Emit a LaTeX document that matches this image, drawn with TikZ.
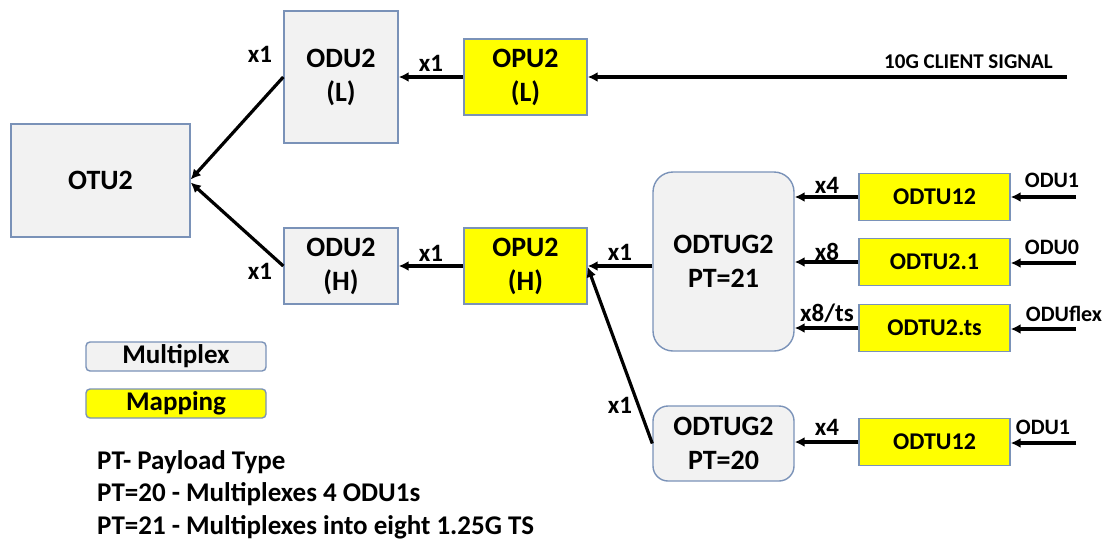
\documentclass[tikz,border=0pt]{standalone}
\usepackage{fontspec}
\setmainfont{Carlito}
\usetikzlibrary{arrows.meta}
\definecolor{boxgray}{RGB}{242,242,242}
\definecolor{boxedge}{RGB}{122,146,184}
\definecolor{mapyellow}{RGB}{255,255,0}
\tikzset{
  mux/.style={draw=boxedge, line width=1.4pt, fill=boxgray, inner sep=0pt, align=center,
    font=\bfseries\fontsize{28}{34}\selectfont},
  map/.style={draw=boxedge, line width=1.4pt, fill=mapyellow, inner sep=0pt, align=center,
    font=\bfseries\fontsize{28}{34}\selectfont},
  arr/.style={line width=3.2pt, -{Latex[length=10pt,width=10pt]}},
  lbl/.style={font=\bfseries\fontsize{25}{30}\selectfont, inner sep=0pt},
  sig/.style={font=\bfseries\fontsize{22}{26}\selectfont, inner sep=0pt},
}
\begin{document}
\begin{tikzpicture}[x=1pt,y=-1pt]
\useasboundingbox (0,0) rectangle (1105,541);
% main boxes
\node[mux, minimum width=179pt, minimum height=113pt] (otu) at (100.5,180.5) {OTU2};
\node[mux, minimum width=114pt, minimum height=132pt] (odul) at (341,77) {ODU2\\(L)};
\node[map, minimum width=123pt, minimum height=76pt] (opul) at (525.5,77) {OPU2\\(L)};
\node[mux, minimum width=114pt, minimum height=76pt] (oduh) at (341,266) {ODU2\\(H)};
\node[map, minimum width=123pt, minimum height=76pt] (opuh) at (525.5,266) {OPU2\\(H)};
\node[mux, rounded corners=20pt, minimum width=141pt, minimum height=179pt] (g21) at (723.5,261.5) {ODTUG2\\PT=21};
\node[mux, rounded corners=15pt, minimum width=141pt, minimum height=75pt] (g20) at (723.5,443.5) {ODTUG2\\PT=20};
\node[map, minimum width=151pt, minimum height=47pt, font=\bfseries\fontsize{24}{28}\selectfont] (t12a) at (934.5,197) {ODTU12};
\node[map, minimum width=151pt, minimum height=47pt, font=\bfseries\fontsize{24}{28}\selectfont] (t21) at (934.5,262) {ODTU2.1};
\node[map, minimum width=151pt, minimum height=47pt, font=\bfseries\fontsize{24}{28}\selectfont] (tts) at (934.5,328) {ODTU2.ts};
\node[map, minimum width=151pt, minimum height=47pt, font=\bfseries\fontsize{24}{28}\selectfont] (t12b) at (934.5,442) {ODTU12};
% legend
\node[mux, rounded corners=4pt, minimum width=180pt, minimum height=29pt, font=\bfseries\fontsize{27}{30}\selectfont] (legmux) at (176,356.5) {Multiplex};
\node[map, rounded corners=4pt, minimum width=180pt, minimum height=29pt, font=\bfseries\fontsize{27}{30}\selectfont] (legmap) at (176,403.5) {Mapping};
\node[anchor=north west, align=left, inner sep=0pt, font=\bfseries\fontsize{27}{32.5}\selectfont] (notes) at (97,450)
  {PT- Payload Type\\PT=20 - Multiplexes 4 ODU1s\\PT=21 - Multiplexes into eight 1.25G TS};
% free ends
\coordinate (client) at (1067,77);
\coordinate (in1) at (1076,197);
\coordinate (in2) at (1076,263);
\coordinate (in3) at (1076,329);
\coordinate (in4) at (1076,443);
% connectors
\draw[arr] (client) -- (opul.east);
\draw[arr] (opul.west) -- (odul.east);
\draw[arr] (odul.west) -- ([yshift=1pt]otu.east);
\draw[arr] (oduh.west) -- ([yshift=-2pt]otu.east);
\draw[arr] (opuh.west) -- (oduh.east);
\draw[arr] (g21.west |- opuh.east) -- (opuh.east);
\draw[arr] (g20.west) -- ([yshift=-1pt]opuh.east);
\draw[arr] (t12a.west) -- (t12a.west -| g21.east);
\draw[arr] (t21.west) -- (t21.west -| g21.east);
\draw[arr] (tts.west) -- (tts.west -| g21.east);
\draw[arr] (t12b.west) -- (t12b.west -| g20.east);
\draw[arr] (in1) -- (in1 -| t12a.east);
\draw[arr] (in2) -- (in2 -| t21.east);
\draw[arr] (in3) -- (in3 -| tts.east);
\draw[arr] (in4) -- (in4 -| t12b.east);
% labels
\node[lbl] (l1) at (260,54) {x1};
\node[lbl] (l2) at (260,271) {x1};
\node[lbl] (l3) at (431,63) {x1};
\node[lbl] (l4) at (431,253) {x1};
\node[lbl] (l5) at (620,252) {x1};
\node[lbl] (l6) at (620,405) {x1};
\node[lbl] (l7) at (827,185) {x4};
\node[lbl] (l8) at (827,252) {x8};
\node[lbl] (l9) at (827,313) {x8/ts};
\node[lbl] (l10) at (827,427) {x4};
\node[sig, anchor=east, font=\bfseries\fontsize{21}{24}\selectfont] (cs) at (1053,62) {10G CLIENT SIGNAL};
\node[sig] (s1) at (1052,180) {ODU1};
\node[sig] (s2) at (1052,247) {ODU0};
\node[sig] (s3) at (1064,314) {ODUflex};
\node[sig] (s4) at (1043,427) {ODU1};
\end{tikzpicture}
\end{document}
